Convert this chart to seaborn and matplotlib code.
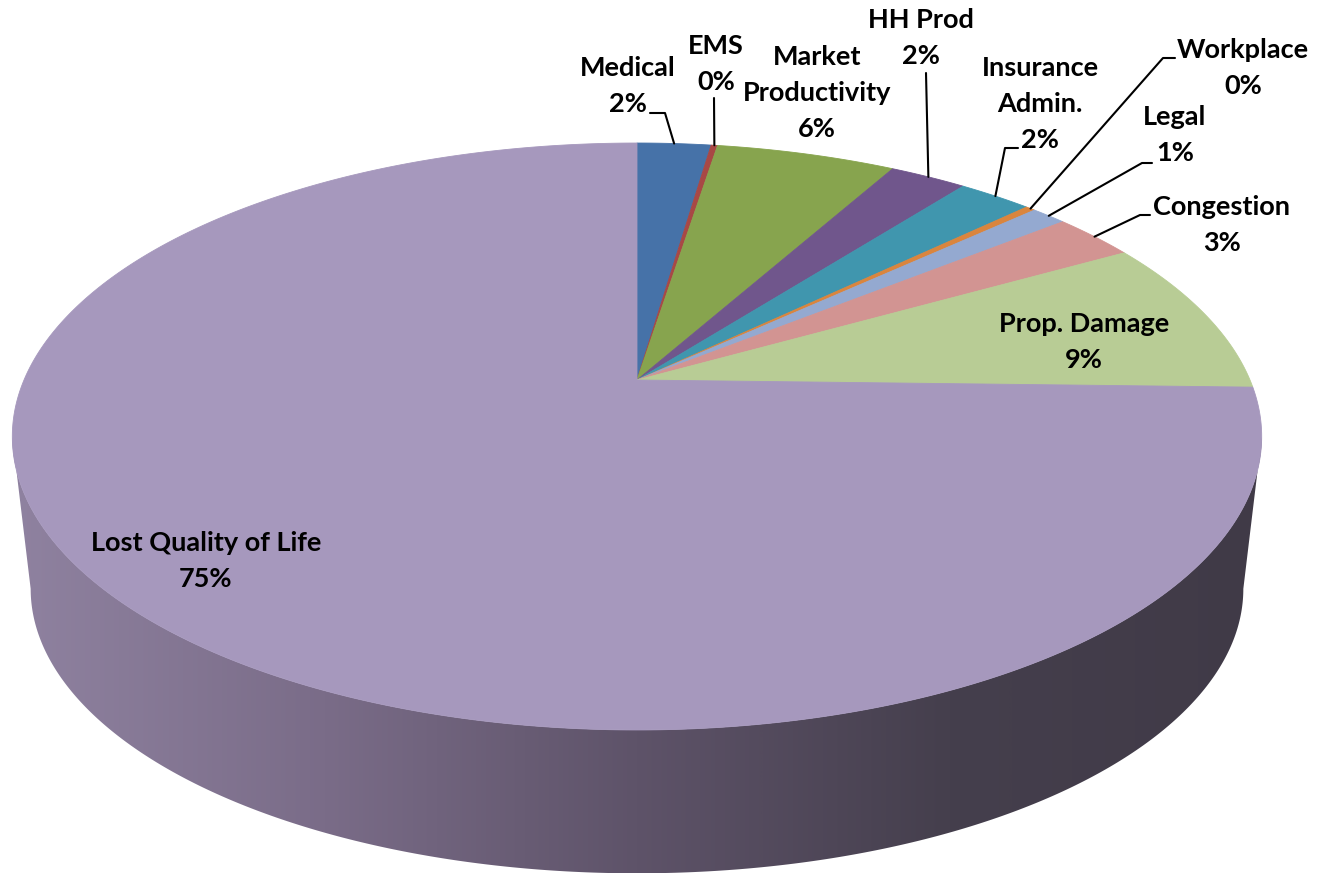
import numpy as np
import matplotlib
matplotlib.use("Agg")
import matplotlib.pyplot as plt
import seaborn as sns
from matplotlib.patches import Polygon
from matplotlib.colors import LinearSegmentedColormap

# Cost components (percent of total), clockwise from 12 o'clock
names = ["Medical", "EMS", "Market\nProductivity", "HH Prod", "Insurance\nAdmin.",
         "Workplace", "Legal", "Congestion", "Prop. Damage", "Lost Quality of Life"]
values = [2.3, 0.2, 5.6, 2.4, 2.3, 0.3, 1.1, 2.6, 8.6, 74.6]
colors = ["#4672A8", "#A84845", "#87A44E", "#70568C", "#4096AE",
          "#DA853D", "#94A9D0", "#D29492", "#B8CC95", "#A698BD"]

# label block centres (pixels) and leader elbows (None = no leader)
label_pos = [(628, 86), (716, 64), (817, 93), (921, 38), (1040, 104),
             (1243, 68), (1175, 135), (1222, 225), (1084, 342), (206, 561)]
leaders = [[(650, 113), (665, 113)], [(714, 98)], None, [(926, 73)],
           [(1018, 148), (1005, 148)], [(1175, 58), (1163, 58)],
           [(1152, 163), (1142, 163)], [(1150, 215), (1140, 215)], None, None]

sns.set_theme(style="white")
plt.rcParams["font.family"] = ["Lato", "DejaVu Sans"]
palette = sns.color_palette(colors)

W, H = 1318, 875
fig = plt.figure(figsize=(W / 100, H / 100), dpi=100)
ax = fig.add_axes([0, 0, 1, 1])
ax.set_xlim(0, W)
ax.set_ylim(H, 0)
ax.axis("off")

# perspective disc: top face and bottom face
TOP = dict(cx=637, cy=380, a=613, b=282.6, k=0.1925)
BOT = dict(cx=637, cy=534, a=595, b=274, k=0.1925)


def proj(x, yp, g):
    s = 1.0 / (1.0 - g["k"] * yp)
    return g["cx"] + g["a"] * x * s, g["cy"] + g["b"] * yp * s


def rim(alpha, g):
    # alpha: clockwise angle from 12 o'clock, radians
    return proj(np.sin(alpha), -np.cos(alpha), g)


# side wall (front half), horizontal shading
phi0 = np.arcsin(TOP["k"])
phi = np.linspace(phi0, np.pi - phi0, 300)
tx, ty = proj(np.cos(phi), np.sin(phi), TOP)
bx, by = proj(np.cos(phi), np.sin(phi), BOT)
side = np.column_stack([np.r_[tx, bx[::-1]], np.r_[ty, by[::-1]]])
side_patch = Polygon(side, closed=True, facecolor="none", edgecolor="none")
ax.add_patch(side_patch)
shade = LinearSegmentedColormap.from_list(
    "side", ["#8F82A0", "#7A6C88", "#5E5369", "#453F4D", "#403A47"])
grad = np.linspace(0, 1, 512)[None, :]
im = ax.imshow(grad, cmap=shade, aspect="auto",
               extent=(side[:, 0].min(), side[:, 0].max(), side[:, 1].max(), side[:, 1].min()))
im.set_clip_path(side_patch)
ax.set_xlim(0, W)
ax.set_ylim(H, 0)

# top face slices
total = sum(values)
cum = np.cumsum([0] + values) / total * 2 * np.pi
for i, v in enumerate(values):
    a = np.linspace(cum[i], cum[i + 1], max(4, int(v * 8)))
    rx, ry = rim(a, TOP)
    pts = np.column_stack([np.r_[TOP["cx"], rx], np.r_[TOP["cy"], ry]])
    ax.add_patch(Polygon(pts, closed=True, facecolor=palette[i],
                         edgecolor=palette[i], linewidth=0.6))

# labels and leader lines
for i, v in enumerate(values):
    txt = f"{names[i]}\n{v / total * 100:.0f}%"
    ax.text(label_pos[i][0], label_pos[i][1], txt, ha="center", va="center",
            fontsize=19.5, fontweight="bold", color="black", linespacing=1.62)
    if leaders[i] is not None:
        mid = (cum[i] + cum[i + 1]) / 2
        ex, ey = rim(mid, TOP)
        pts = leaders[i] + [(ex, ey)]
        ax.plot([p[0] for p in pts], [p[1] for p in pts], color="black", lw=1.5)

fig.savefig("out.png", dpi=100)
